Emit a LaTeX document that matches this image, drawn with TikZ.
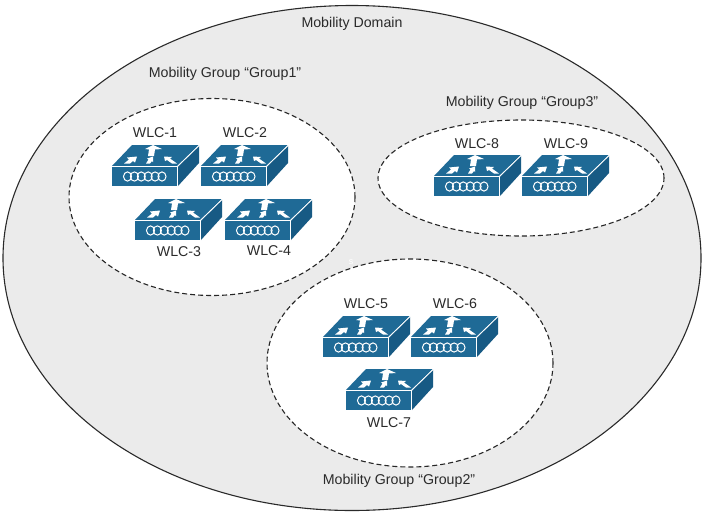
\documentclass[tikz,border=0pt]{standalone}
\usepackage{fontspec}
\usetikzlibrary{shapes.geometric}
\setmainfont{Liberation Sans}
\definecolor{domfill}{HTML}{EBEBEB}
\definecolor{swf}{HTML}{1F6A96}
\definecolor{sws}{HTML}{175A84}
\definecolor{txt}{HTML}{2A2A2A}
\tikzset{
  x=1pt,y=-1pt,
  domainshape/.style={ellipse,draw=txt,line width=1.1pt,fill=domfill,inner sep=0pt},
  groupshape/.style={ellipse,draw=black!85,line width=1.1pt,fill=white,dash pattern=on 5pt off 3pt,inner sep=0pt},
  lab/.style={text=txt,font=\fontsize{14.2}{16}\selectfont,inner sep=0pt},
  arr/.style={fill=white,draw=none},
  wlc/.pic={
    \fill[swf] (0,0) -- (20,-21) -- (87,-21) -- (65,0) -- cycle;
    \fill[swf] (0,1) -- (65,1) -- (65,20) -- (0,20) -- cycle;
    \fill[sws] (66,0.5) -- (87,-20) -- (87,-3) -- (66,20) -- cycle;
    \draw[white,line width=0.8pt] (0,0.5) -- (65.5,0.5) -- (87,-20.5);
    \draw[white,line width=0.8pt] (65.5,0.5) -- (65.5,20);
    \fill[arr] (41,-21) -- (33,-17) -- (37,-16.5) -- (36,-10) -- (42,-10) -- (43,-16.5) -- (50,-17) -- cycle;
    \fill[arr] (25,-9.5) -- (15,-8.5) -- (17,-6.5) -- (12,-2.5) -- (18,-2.5) -- (21,-5) -- (23,-3.5) -- cycle;
    \fill[arr] (41,-9.5) -- (35,-7.5) -- (36.5,-6.5) -- (34,-2.5) -- (38,-2.5) -- (40,-5) -- (41,-4) -- cycle;
    \fill[arr] (52,-9.5) -- (53,-5) -- (55,-6) -- (60,-2.5) -- (65,-2.5) -- (58,-7.5) -- (60,-9) -- cycle;
    \foreach \i in {0,...,5}{
      \draw[white,line width=1pt] (15.5+\i*6.9,10.5) circle[x radius=4,y radius=4.6];
    }
  },
}
\begin{document}
\begin{tikzpicture}
\useasboundingbox (0,0) rectangle (714,520);
\node[domainshape,minimum width=698pt,minimum height=505pt] (domain) at (352,258) {};
\node[groupshape,minimum width=286pt,minimum height=197pt] (g1) at (212,197) {};
\node[groupshape,minimum width=286pt,minimum height=116pt] (g3) at (521,178) {};
\node[groupshape,minimum width=286pt,minimum height=208pt] (g2) at (410,363) {};
\node[lab] (tdomain) at (352,24) {Mobility Domain};
\node[lab] (tg1) at (225,74) {Mobility Group “Group1”};
\node[lab] (tg3) at (522,103) {Mobility Group “Group3”};
\node[lab] (tg2) at (399,481) {Mobility Group “Group2”};
\node[text=white,font=\fontsize{9}{10}\selectfont,inner sep=0pt] (ts) at (351,262) {s};
\pic (s1) at (112,166) {wlc};
\pic (s2) at (201,166) {wlc};
\pic (s3) at (135,220) {wlc};
\pic (s4) at (225,220) {wlc};
\pic (s8) at (434,176) {wlc};
\pic (s9) at (522,176) {wlc};
\pic (s5) at (323,337) {wlc};
\pic (s6) at (411,337) {wlc};
\pic (s7) at (346,390) {wlc};
\node[lab] (l1) at (155,133) {WLC-1};
\node[lab] (l2) at (245,133) {WLC-2};
\node[lab] (l3) at (179,252) {WLC-3};
\node[lab] (l4) at (269,251) {WLC-4};
\node[lab] (l8) at (477,144) {WLC-8};
\node[lab] (l9) at (566,144) {WLC-9};
\node[lab] (l5) at (366,304) {WLC-5};
\node[lab] (l6) at (455,304) {WLC-6};
\node[lab] (l7) at (389,423) {WLC-7};
\end{tikzpicture}
\end{document}
